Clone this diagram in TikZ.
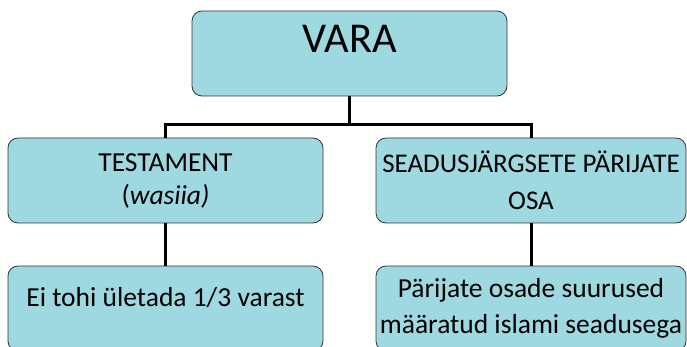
\documentclass[tikz,border=0pt]{standalone}
\usepackage{fontspec}
\setmainfont{Carlito}
\definecolor{boxfill}{HTML}{9ED8E0}
\begin{document}
\begin{tikzpicture}[x=1pt,y=-1pt,
    box/.style={draw=black!80,line width=0.8pt,fill=boxfill,rounded corners=10pt,
        minimum height=85pt,inner sep=0pt,align=center},
    conn/.style={line width=3pt}]
    \clip (0,0) rectangle (687,347);
    \node[box,minimum width=315pt,text depth=30pt,font=\fontsize{42.5}{46}\selectfont] (vara) at (349.5,53.5) {VARA};
    \node[box,minimum width=315pt,font=\fontsize{27.5}{33}\selectfont] (testament) at (165.5,180.5) {TESTAMENT\\({\itshape wasiia)}};
    \node[box,minimum width=310pt,font=\fontsize{27}{37}\selectfont] (osa) at (531,180.5) {SEADUSJÄRGSETE PÄRIJATE\\OSA};
    \node[box,minimum width=315pt,text depth=24pt,font=\fontsize{27.5}{33}\selectfont] (piir) at (165.5,308.5) {Ei tohi ületada 1/3 varast};
    \node[box,minimum width=310pt,font=\fontsize{27.5}{36}\selectfont] (suurus) at (531,308.5) {Pärijate osade suurused\\määratud islami seadusega};
    \draw[conn] (vara.south) -- ++(0,28) coordinate (bus) -| (testament.north);
    \draw[conn] (bus) -| (osa.north);
    \draw[conn] (testament) -- (piir);
    \draw[conn] (osa) -- (suurus);
\end{tikzpicture}
\end{document}
